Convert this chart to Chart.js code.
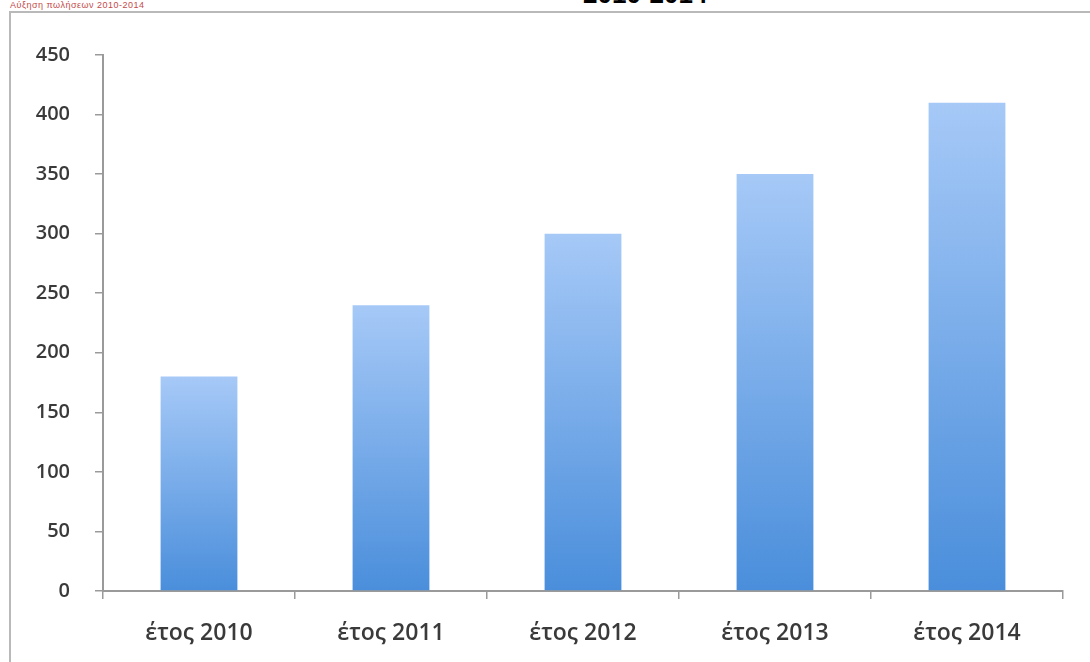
<!DOCTYPE html>
<html>
<head>
<meta charset="utf-8">
<script src="https://cdn.jsdelivr.net/npm/chart.js@4.4.0/dist/chart.umd.min.js"></script>
<style>
    html, body { margin: 0; padding: 0; background: #fff; }
    #wrap { position: relative; width: 1090px; height: 662px; overflow: hidden; }
    #frame { position: absolute; left: 9px; top: 11px; right: -5px; bottom: -5px;
             border-top: 2px solid #b9b9b9; border-left: 2px solid #b9b9b9; }
    #mark { position: absolute; left: 10px; top: 0px; font: 9px "Liberation Sans", Arial, sans-serif;
            color: #c44a4a; letter-spacing: 0.5px; }
    #title { position: absolute; left: 583px; top: -19px; font: bold 26px "Liberation Sans", Arial, sans-serif;
             line-height: 26px; color: #000; }
    canvas { position: absolute; left: 0; top: 0; }
</style>
</head>
<body>
<div id="wrap">
    <div id="frame"></div>
    <div id="mark">Αύξηση πωλήσεων 2010-2014</div>
    <div id="title">2010-2014</div>
    <canvas id="chart" width="1090" height="662"></canvas>
</div>
<script>
const years = ['έτος 2010', 'έτος 2011', 'έτος 2012', 'έτος 2013', 'έτος 2014']
const values = [180, 240, 300, 350, 410]
const yTicks = [0, 50, 100, 150, 200, 250, 300, 350, 400, 450]

// each bar gets its own gradient, light on top, darker at the base
function barGradient(context) {
    const chart = context.chart
    const y = chart.scales.y
    if (!chart.chartArea || !y || context.raw === undefined) {
        return '#7aaee9'
    }
    const top = y.getPixelForValue(context.raw)
    const bottom = y.getPixelForValue(0)
    const g = chart.ctx.createLinearGradient(0, top, 0, bottom)
    g.addColorStop(0, '#a6c9f7')
    g.addColorStop(1, '#4a8edb')
    return g
}

new Chart(document.getElementById('chart'), {
    type: 'bar',
    data: {
        labels: years,
        datasets: [{
            data: values,
            backgroundColor: barGradient,
            borderWidth: 0,
            barPercentage: 0.4,
            categoryPercentage: 1.0,
        }],
    },
    options: {
        responsive: false,
        animation: false,
        layout: {
            padding: { left: 0, top: 55, right: 27, bottom: 0 }
        },
        plugins: {
            legend: { display: false },
            tooltip: { enabled: false },
        },
        scales: {
            x: {
                afterFit: (scale) => { scale.height = 71 },
                grid: {
                    offset: true,
                    drawOnChartArea: false,
                    tickLength: 8,
                    color: '#9a9a9a',
                    lineWidth: 1.5,
                },
                border: { color: '#9a9a9a', width: 2 },
                ticks: {
                    padding: 21,
                    color: '#3a3a3a',
                    font: { family: '"Open Sans", sans-serif', size: 23, weight: '600' },
                },
            },
            y: {
                min: 0,
                max: 450,
                afterFit: (scale) => { scale.width = 103 },
                afterBuildTicks: (scale) => {
                    scale.ticks = yTicks.map((v) => ({ value: v }))
                },
                grid: {
                    drawOnChartArea: false,
                    tickLength: 8,
                    color: '#9a9a9a',
                    lineWidth: 1.5,
                },
                border: { color: '#9a9a9a', width: 2 },
                ticks: {
                    padding: 25,
                    color: '#3a3a3a',
                    font: { family: '"Open Sans", sans-serif', size: 20, weight: '600' },
                },
            },
        },
    },
})
</script>
</body>
</html>
